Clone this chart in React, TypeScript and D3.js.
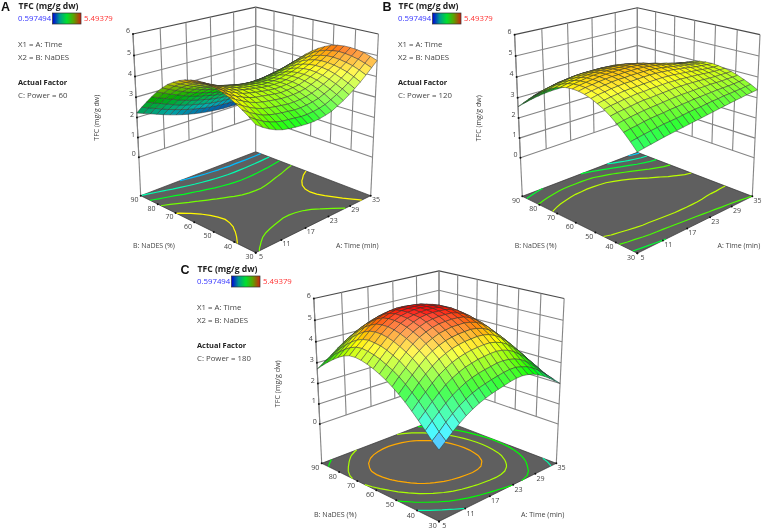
import React from "react";
import * as d3 from "d3";

const zTicks = [0, 1, 2, 3, 4, 5, 6];
const timeTicks = [5, 11, 17, 23, 29, 35];
const nadesTicks = [30, 40, 50, 60, 70, 80, 90];
const colorLow = "0.597494";
const colorHigh = "5.49379";

const levelsA = [1.5, 2.2, 2.9, 3.6, 4.3];
const levelsB = [1.6, 2.2, 2.8, 3.4, 3.95];
const levelsC = [1.41, 2.23, 3.04, 3.86, 4.68];

// TFC: rows are NaDES 30..90 (3% steps), columns are Time 5..35 (1.5 min steps)
const surfaceA = [
[3.72,3.50,3.32,3.18,3.08,3.02,2.98,2.95,2.93,2.93,2.96,3.02,3.10,3.25,3.40,3.58,3.78,4.00,4.24,4.50,4.76],
[3.95,3.74,3.56,3.42,3.32,3.25,3.22,3.19,3.15,3.15,3.18,3.23,3.31,3.44,3.59,3.76,3.95,4.16,4.39,4.63,4.88],
[4.15,3.94,3.77,3.62,3.53,3.47,3.42,3.39,3.35,3.35,3.38,3.43,3.50,3.62,3.75,3.91,4.09,4.30,4.51,4.74,4.98],
[4.33,4.13,3.96,3.82,3.71,3.65,3.60,3.56,3.52,3.52,3.54,3.58,3.65,3.76,3.89,4.04,4.21,4.39,4.59,4.81,5.04],
[4.50,4.30,4.14,3.99,3.88,3.81,3.76,3.72,3.68,3.67,3.68,3.71,3.77,3.88,4.00,4.14,4.30,4.46,4.65,4.86,5.07],
[4.62,4.42,4.26,4.12,4.01,3.93,3.89,3.84,3.80,3.77,3.79,3.82,3.86,3.96,4.07,4.20,4.35,4.50,4.68,4.88,5.07],
[4.71,4.52,4.35,4.22,4.10,4.03,3.97,3.92,3.88,3.85,3.85,3.88,3.92,4.01,4.10,4.23,4.36,4.51,4.67,4.84,5.03],
[4.76,4.57,4.41,4.27,4.16,4.08,4.02,3.97,3.92,3.89,3.88,3.89,3.93,4.01,4.10,4.21,4.33,4.47,4.61,4.78,4.95],
[4.78,4.59,4.43,4.30,4.18,4.09,4.02,3.96,3.92,3.88,3.87,3.88,3.90,3.98,4.05,4.15,4.26,4.38,4.52,4.67,4.82],
[4.76,4.57,4.42,4.27,4.16,4.07,4.00,3.93,3.88,3.84,3.82,3.82,3.84,3.90,3.96,4.05,4.15,4.26,4.37,4.52,4.65],
[4.70,4.52,4.37,4.22,4.10,4.01,3.93,3.86,3.80,3.76,3.73,3.73,3.74,3.79,3.84,3.92,4.00,4.10,4.21,4.33,4.45],
[4.62,4.45,4.29,4.15,4.02,3.92,3.84,3.77,3.70,3.65,3.62,3.61,3.61,3.65,3.69,3.76,3.83,3.91,4.00,4.11,4.22],
[4.50,4.33,4.18,4.03,3.90,3.80,3.72,3.64,3.56,3.51,3.47,3.45,3.45,3.47,3.51,3.56,3.62,3.68,3.77,3.86,3.95],
[4.34,4.18,4.02,3.88,3.75,3.65,3.55,3.47,3.40,3.34,3.30,3.28,3.26,3.28,3.30,3.35,3.40,3.45,3.52,3.60,3.68],
[4.15,3.99,3.84,3.69,3.57,3.46,3.37,3.28,3.20,3.14,3.10,3.07,3.05,3.06,3.07,3.10,3.14,3.19,3.25,3.31,3.38],
[3.90,3.75,3.60,3.46,3.33,3.22,3.13,3.04,2.96,2.90,2.85,2.81,2.79,2.80,2.81,2.83,2.86,2.89,2.94,2.99,3.05],
[3.62,3.48,3.33,3.21,3.07,2.97,2.87,2.79,2.71,2.65,2.59,2.56,2.53,2.53,2.52,2.55,2.57,2.60,2.63,2.68,2.72],
[3.30,3.16,3.03,2.90,2.77,2.66,2.57,2.49,2.41,2.34,2.29,2.25,2.22,2.21,2.21,2.22,2.24,2.25,2.28,2.32,2.35],
[2.95,2.82,2.69,2.57,2.44,2.33,2.24,2.15,2.08,2.01,1.95,1.91,1.88,1.87,1.86,1.86,1.87,1.88,1.90,1.92,1.95],
[2.60,2.48,2.35,2.23,2.10,2.00,1.90,1.81,1.74,1.67,1.61,1.57,1.53,1.51,1.48,1.49,1.49,1.48,1.49,1.50,1.52],
[2.22,2.10,1.98,1.86,1.74,1.63,1.53,1.44,1.36,1.29,1.23,1.18,1.14,1.11,1.08,1.07,1.06,1.05,1.05,1.05,1.05],
];

const surfaceB = [
[2.57,2.63,2.68,2.73,2.78,2.82,2.86,2.90,2.94,2.98,3.02,3.06,3.10,3.14,3.18,3.22,3.26,3.29,3.33,3.36,3.39],
[2.90,2.96,3.01,3.06,3.10,3.15,3.17,3.20,3.24,3.28,3.31,3.33,3.37,3.40,3.42,3.46,3.47,3.49,3.51,3.54,3.56],
[3.20,3.26,3.30,3.36,3.40,3.43,3.45,3.49,3.51,3.54,3.56,3.59,3.60,3.62,3.63,3.65,3.65,3.66,3.67,3.69,3.70],
[3.46,3.52,3.57,3.61,3.65,3.68,3.70,3.73,3.76,3.78,3.80,3.80,3.81,3.82,3.82,3.83,3.82,3.81,3.82,3.82,3.83],
[3.70,3.76,3.80,3.84,3.89,3.92,3.93,3.95,3.97,3.99,4.01,4.01,4.01,4.00,3.99,3.97,3.95,3.94,3.94,3.93,3.93],
[3.90,3.96,4.00,4.05,4.08,4.12,4.12,4.15,4.16,4.17,4.18,4.17,4.16,4.14,4.12,4.10,4.07,4.04,4.02,4.01,4.00],
[4.05,4.11,4.16,4.20,4.24,4.26,4.27,4.29,4.30,4.31,4.31,4.30,4.28,4.25,4.22,4.18,4.15,4.11,4.08,4.06,4.05],
[4.18,4.25,4.29,4.34,4.37,4.40,4.40,4.42,4.43,4.44,4.43,4.41,4.38,4.35,4.30,4.26,4.21,4.16,4.13,4.10,4.08],
[4.27,4.33,4.38,4.42,4.46,4.49,4.49,4.51,4.51,4.51,4.51,4.48,4.44,4.39,4.34,4.28,4.23,4.17,4.13,4.09,4.07],
[4.32,4.39,4.43,4.48,4.51,4.54,4.54,4.56,4.56,4.56,4.55,4.51,4.47,4.41,4.35,4.28,4.22,4.14,4.10,4.05,4.03],
[4.33,4.40,4.45,4.49,4.53,4.56,4.57,4.58,4.58,4.57,4.55,4.51,4.46,4.39,4.32,4.25,4.17,4.09,4.04,3.98,3.95],
[4.30,4.37,4.42,4.47,4.51,4.53,4.54,4.55,4.54,4.53,4.52,4.46,4.41,4.32,4.25,4.16,4.07,3.99,3.93,3.86,3.83],
[4.23,4.30,4.36,4.41,4.44,4.47,4.48,4.48,4.49,4.47,4.45,4.39,4.33,4.25,4.16,4.06,3.97,3.87,3.80,3.74,3.70],
[4.12,4.19,4.25,4.30,4.34,4.37,4.38,4.39,4.38,4.36,4.35,4.29,4.22,4.12,4.03,3.92,3.82,3.72,3.64,3.57,3.53],
[3.98,4.06,4.12,4.18,4.23,4.26,4.26,4.27,4.27,4.25,4.23,4.16,4.09,3.99,3.89,3.78,3.66,3.55,3.48,3.40,3.36],
[3.80,3.89,3.96,4.01,4.06,4.10,4.11,4.11,4.11,4.10,4.08,4.00,3.92,3.82,3.71,3.58,3.48,3.36,3.28,3.19,3.15],
[3.60,3.69,3.76,3.83,3.87,3.91,3.92,3.94,3.93,3.91,3.88,3.81,3.72,3.61,3.49,3.37,3.25,3.13,3.03,2.95,2.90],
[3.36,3.45,3.52,3.60,3.64,3.68,3.69,3.70,3.70,3.68,3.65,3.57,3.48,3.36,3.24,3.09,2.97,2.83,2.74,2.65,2.60],
[3.10,3.20,3.28,3.33,3.39,3.43,3.44,3.44,3.44,3.42,3.39,3.29,3.20,3.07,2.94,2.78,2.65,2.51,2.41,2.30,2.25],
[2.83,2.92,3.00,3.06,3.11,3.15,3.16,3.17,3.15,3.12,3.08,2.98,2.88,2.73,2.59,2.43,2.29,2.13,2.02,1.91,1.85],
[2.56,2.65,2.73,2.79,2.84,2.87,2.88,2.88,2.87,2.83,2.78,2.68,2.56,2.41,2.25,2.08,1.92,1.76,1.63,1.52,1.45],
];

const surfaceC = [
[1.20,1.47,1.75,2.00,2.22,2.40,2.55,2.67,2.77,2.85,2.92,3.00,3.05,3.06,3.02,2.94,2.80,2.64,2.44,2.22,2.00],
[1.47,1.75,2.05,2.31,2.54,2.73,2.89,3.01,3.10,3.18,3.25,3.31,3.35,3.35,3.28,3.19,3.03,2.84,2.61,2.37,2.12],
[1.80,2.10,2.39,2.66,2.90,3.09,3.25,3.37,3.46,3.53,3.58,3.64,3.65,3.62,3.55,3.43,3.25,3.03,2.78,2.50,2.22],
[2.12,2.42,2.73,3.00,3.26,3.45,3.61,3.74,3.82,3.90,3.94,3.98,3.99,3.95,3.86,3.71,3.50,3.28,3.00,2.70,2.40],
[2.42,2.74,3.04,3.33,3.59,3.78,3.95,4.07,4.16,4.22,4.26,4.29,4.29,4.23,4.13,3.96,3.74,3.49,3.20,2.87,2.55],
[2.70,3.02,3.34,3.63,3.88,4.10,4.25,4.38,4.46,4.52,4.55,4.58,4.56,4.50,4.37,4.19,3.94,3.68,3.36,3.03,2.68],
[2.95,3.28,3.59,3.89,4.16,4.36,4.52,4.64,4.72,4.77,4.80,4.82,4.78,4.70,4.56,4.37,4.12,3.84,3.51,3.15,2.78],
[3.17,3.51,3.81,4.13,4.38,4.60,4.75,4.88,4.95,5.01,5.02,5.03,4.98,4.90,4.74,4.54,4.26,3.98,3.62,3.26,2.87],
[3.37,3.70,4.02,4.31,4.58,4.80,4.95,5.07,5.15,5.18,5.20,5.19,5.15,5.04,4.87,4.66,4.38,4.07,3.70,3.32,2.93],
[3.53,3.85,4.17,4.47,4.74,4.95,5.11,5.23,5.29,5.33,5.34,5.33,5.26,5.15,4.98,4.74,4.45,4.14,3.76,3.36,2.96],
[3.67,4.00,4.31,4.61,4.87,5.08,5.23,5.35,5.41,5.43,5.42,5.41,5.35,5.23,5.04,4.80,4.50,4.17,3.79,3.38,2.97],
[3.78,4.10,4.41,4.71,4.96,5.17,5.32,5.40,5.45,5.47,5.47,5.44,5.39,5.27,5.07,4.82,4.51,4.17,3.78,3.36,2.95],
[3.86,4.17,4.46,4.77,5.02,5.22,5.36,5.44,5.48,5.49,5.48,5.45,5.40,5.26,5.06,4.80,4.48,4.13,3.74,3.32,2.90],
[3.90,4.21,4.49,4.78,5.02,5.23,5.37,5.44,5.47,5.48,5.47,5.44,5.36,5.22,5.00,4.74,4.42,4.07,3.66,3.24,2.82],
[3.88,4.18,4.45,4.74,4.98,5.18,5.31,5.40,5.43,5.44,5.42,5.38,5.27,5.13,4.92,4.64,4.32,3.96,3.57,3.14,2.72],
[3.78,4.07,4.33,4.61,4.85,5.06,5.19,5.29,5.33,5.33,5.30,5.25,5.14,4.99,4.77,4.50,4.17,3.83,3.43,3.02,2.60],
[3.62,3.90,4.16,4.43,4.68,4.86,5.00,5.09,5.13,5.14,5.11,5.06,4.95,4.79,4.58,4.30,3.99,3.65,3.26,2.86,2.45],
[3.42,3.69,3.94,4.22,4.45,4.65,4.78,4.88,4.92,4.93,4.90,4.85,4.74,4.60,4.39,4.12,3.81,3.48,3.09,2.71,2.32],
[3.20,3.47,3.70,3.96,4.21,4.40,4.53,4.61,4.66,4.68,4.65,4.59,4.49,4.35,4.15,3.88,3.59,3.26,2.90,2.52,2.15],
[2.96,3.21,3.44,3.69,3.93,4.11,4.24,4.34,4.38,4.38,4.36,4.30,4.20,4.06,3.87,3.61,3.32,3.01,2.66,2.30,1.95],
[2.70,2.93,3.15,3.40,3.62,3.80,3.93,4.02,4.06,4.07,4.05,4.00,3.90,3.76,3.58,3.33,3.05,2.75,2.42,2.08,1.75],
];

const FONT = "'Open Sans', 'Noto Sans', sans-serif";
const scaleTime = d3.scaleLinear().domain([5, 35]).range([0, 1]);
const scaleNades = d3.scaleLinear().domain([30, 90]).range([0, 1]);
const scaleZ = d3.scaleLinear().domain([-2, 6]).range([0, 1]);
const gridIndex = d3.scaleLinear().domain([0, 20]).range([0, 1]);
const colormap = d3.scaleLinear<string>()
  .domain([0.597, 1.82, 3.05, 4.27, 5.49])
  .range(["#0000ff", "#00ffff", "#00ff00", "#ffff00", "#ff0000"]);

type Panel = { cx: number; cy: number; s: number };

function projector({ cx, cy, s }: Panel) {
  return (u: number, v: number, w: number): [number, number] => {
    const p = 1 / (1 + 0.129 * (u + v - 1) - 0.0628 * w);
    return [cx + s * 115 * (u - v) * p, cy + s * p * (49.6 * (1 - u - v) - 151.5 * w)];
  };
}

const pts = (list: [number, number][]) => list.map((q) => q[0].toFixed(2) + "," + q[1].toFixed(2)).join(" ");

function shade(base: string, d: number) {
  const c = d3.rgb(base);
  const f = Math.min(1, 0.5 + 0.72 * d);
  const white = Math.pow(Math.max(0, d - 0.74) / 0.26, 1.6) * 0.36;
  const mix = (x: number) => x * f * (1 - white) + 255 * white;
  return d3.rgb(mix(c.r), mix(c.g), mix(c.b)).formatRgb();
}

function Plot({ panel, data, levels }: { panel: Panel; data: number[][]; levels: number[] }) {
  const P = projector(panel);
  const w0 = scaleZ(0);
  const w6 = scaleZ(6);
  const flat = data.flat();
  const contourGen = d3.contours().size([21, 21]).thresholds(levels);
  const contourSegs: { color: string; d: string }[] = [];
  contourGen(flat).forEach((mp) => {
    const parts: string[] = [];
    const uvOf = (q: number[]) => [
      Math.min(1, Math.max(0, gridIndex(q[0] - 0.5))),
      Math.min(1, Math.max(0, gridIndex(q[1] - 0.5))),
    ];
    const edge = (q: number[]) => q[0] <= 0.5 || q[0] >= 20.5 || q[1] <= 0.5 || q[1] >= 20.5;
    mp.coordinates.forEach((poly) =>
      poly.forEach((ring) => {
        let open = false;
        for (let k = 1; k < ring.length; k++) {
          const a = ring[k - 1];
          const b = ring[k];
          if (edge(a) && edge(b)) { open = false; continue; }
          const [ua, va] = uvOf(a);
          const [ub, vb] = uvOf(b);
          const pa = P(ua, va, 0);
          const pb = P(ub, vb, 0);
          if (!open) parts.push("M" + pa[0].toFixed(2) + " " + pa[1].toFixed(2));
          parts.push("L" + pb[0].toFixed(2) + " " + pb[1].toFixed(2));
          open = true;
        }
      })
    );
    contourSegs.push({ color: colormap(mp.value), d: parts.join("") });
  });

  const cells: { key: string; points: string; fill: string; depth: number }[] = [];
  for (let j = 0; j < 20; j++) {
    for (let i = 0; i < 20; i++) {
      const z = [data[j][i], data[j][i + 1], data[j + 1][i + 1], data[j + 1][i]];
      const u0 = gridIndex(i), u1 = gridIndex(i + 1), v0 = gridIndex(j), v1 = gridIndex(j + 1);
      const w = z.map((t) => scaleZ(t));
      const dzdu = ((w[1] + w[2] - w[0] - w[3]) / 2 / (u1 - u0)) * 1.03;
      const dzdv = ((w[2] + w[3] - w[0] - w[1]) / 2 / (v1 - v0)) * 1.03;
      const len = Math.hypot(dzdu, dzdv, 1);
      const d = Math.abs((0.42 * dzdu + 0.42 * dzdv + 0.8) / len);
      const mean = d3.mean(z) as number;
      cells.push({
        key: i + "-" + j,
        depth: i + j,
        fill: shade(colormap(mean), d),
        points: pts([P(u0, v0, w[0]), P(u1, v0, w[1]), P(u1, v1, w[2]), P(u0, v1, w[3])]),
      });
    }
  }
  cells.sort((a, b) => b.depth - a.depth);

  const wallColor = "#858585";
  const fs = 7 * panel.s;
  const lab = { fontFamily: FONT, fontSize: fs, fill: "#444", textAnchor: "middle" as const, dominantBaseline: "central" as const };
  return (
    <g>
      {zTicks.map((t) => {
        const w = scaleZ(t);
        const a = P(0, 1, w), b = P(1, 1, w), c = P(1, 0, w);
        return <polyline key={"z" + t} points={pts([a, b, c])} fill="none" stroke={t === 6 ? "#4a4a4a" : wallColor} strokeWidth={1.1} />;
      })}
      {timeTicks.map((t) => {
        const u = scaleTime(t);
        const top = u === 1 ? P(u, 1, 0) : P(u, 1, w0);
        return <polyline key={"ta" + t} points={pts([top, P(u, 1, w6)])} fill="none" stroke={wallColor} strokeWidth={1.1} />;
      })}
      {nadesTicks.map((t) => {
        const v = scaleNades(t);
        return <polyline key={"tb" + t} points={pts([v === 0 ? P(1, v, 0) : P(1, v, w0), P(1, v, w6)])} fill="none" stroke={wallColor} strokeWidth={1.1} />;
      })}
      <polyline points={pts([P(0, 1, 0), P(0, 1, w6)])} fill="none" stroke={wallColor} strokeWidth={1.1} />
      <polygon points={pts([P(0, 0, 0), P(1, 0, 0), P(1, 1, 0), P(0, 1, 0)])} fill="#5f5f5f" stroke="#333" strokeWidth={0.7} />
      {contourSegs.map((c, k) => <path key={"c" + k} d={c.d} fill="none" stroke={c.color} strokeWidth={1.2} />)}
      {cells.map((c) => <polygon key={c.key} points={c.points} fill={c.fill} stroke="#333" strokeOpacity={0.8} strokeWidth={0.6} />)}
      {zTicks.map((t) => {
        const q = P(0, 1, scaleZ(t));
        return (
          <g key={"zl" + t}>
            <circle cx={q[0]} cy={q[1]} r={1} fill="#111" />
            <text x={q[0] - 5 * panel.s} y={q[1] - 3.4 * panel.s} {...lab}>{t}</text>
          </g>
        );
      })}
      {nadesTicks.map((t) => {
        const q = P(0, scaleNades(t), 0);
        return (
          <g key={"bl" + t}>
            <circle cx={q[0]} cy={q[1]} r={1} fill="#111" />
            <text x={q[0] - 6.2 * panel.s} y={q[1] + 4 * panel.s} {...lab}>{t}</text>
          </g>
        );
      })}
      {timeTicks.map((t) => {
        const q = P(scaleTime(t), 0, 0);
        return (
          <g key={"al" + t}>
            <circle cx={q[0]} cy={q[1]} r={1} fill="#111" />
            <text x={q[0] + 5.2 * panel.s} y={q[1] + 4 * panel.s} {...lab}>{t}</text>
          </g>
        );
      })}
      <text x={panel.cx + 101.6 * panel.s} y={panel.cy + 49.3 * panel.s} {...lab}>A: Time (min)</text>
      <text x={panel.cx - 101.7 * panel.s} y={panel.cy + 49.3 * panel.s} {...lab}>B: NaDES (%)</text>
      <text transform={`translate(${panel.cx - 159 * panel.s},${panel.cy - 78 * panel.s}) rotate(-90)`} {...lab}>TFC (mg/g dw)</text>
    </g>
  );
}

function Legend({ x, y, letter, letterX, power }: { x: number; y: number; letter: string; letterX: number; power: string }) {
  const t = { fontFamily: FONT, fontSize: 7.8, fill: "#444", dominantBaseline: "central" as const };
  return (
    <g>
      <text x={letterX} y={y + 7} fontFamily="'Liberation Sans', sans-serif" fontWeight={700} fontSize={12.5} textAnchor="middle" dominantBaseline="central" fill="#111">{letter}</text>
      <text {...t} x={x + 18.5} y={y + 5.5} fontWeight={700} fontSize={8.6} fill="#222">TFC (mg/g dw)</text>
      <text {...t} x={x + 18} y={y + 18} fill="#3333ff">{colorLow}</text>
      <rect x={x + 52.5} y={y + 13} width={28.5} height={11} fill="url(#legendGrad)" stroke="#333" strokeWidth={0.7} />
      <text {...t} x={x + 84} y={y + 18} fill="#ff3333">{colorHigh}</text>
      <text {...t} x={x + 18} y={y + 44}>X1 = A: Time</text>
      <text {...t} x={x + 18} y={y + 57}>X2 = B: NaDES</text>
      <text {...t} x={x + 18} y={y + 82} fontWeight={700} fontSize={7.4} fill="#222">Actual Factor</text>
      <text {...t} x={x + 18} y={y + 95}>C: Power = {power}</text>
    </g>
  );
}

export default function App() {
  return (
    <svg width={764} height={530} viewBox="0 0 764 530" style={{ position: "absolute", left: 0, top: 0, background: "#fff", filter: "blur(0.45px)" }}>
      <defs>
        <linearGradient id="legendGrad" x1="0" x2="1" y1="0" y2="0">
          <stop offset="0" stopColor="#0000d8" />
          <stop offset="0.25" stopColor="#009a90" />
          <stop offset="0.5" stopColor="#00e030" />
          <stop offset="0.75" stopColor="#5ea000" />
          <stop offset="1" stopColor="#d02010" />
        </linearGradient>
      </defs>
      <Plot panel={{ cx: 255.7, cy: 195.7, s: 1 }} data={surfaceA} levels={levelsA} />
      <Plot panel={{ cx: 637.3, cy: 196.3, s: 1 }} data={surfaceB} levels={levelsB} />
      <Plot panel={{ cx: 439, cy: 463.3, s: 1.02 }} data={surfaceC} levels={levelsC} />
      <Legend x={0} y={0} letter="A" letterX={5.5} power="60" />
      <Legend x={380} y={0} letter="B" letterX={387} power="120" />
      <Legend x={179} y={263} letter="C" letterX={185} power="180" />
    </svg>
  );
}
